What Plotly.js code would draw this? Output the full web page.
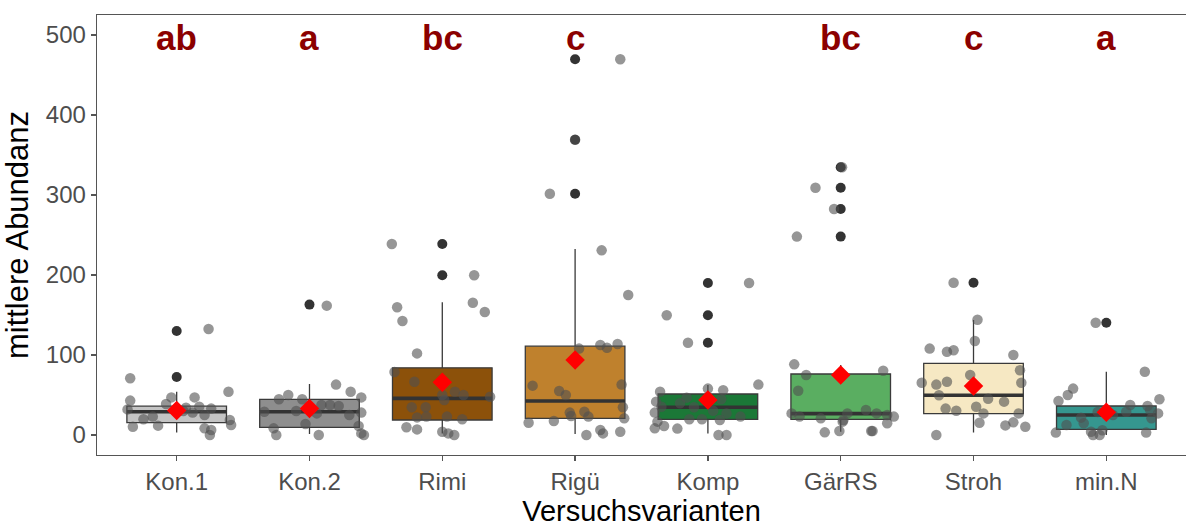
<!DOCTYPE html>
<html>
<head>
<meta charset="utf-8">
<script src="https://cdn.plot.ly/plotly-3.0.1.min.js"></script>
<style>html,body{margin:0;padding:0;background:#fff;}#chart{width:1186px;height:527px;}</style>
</head>
<body>
<div id="chart"></div>
<script>
// ---- data ----
const categories = ['Kon.1','Kon.2','Rimi','Rigü','Komp','GärRS','Stroh','min.N'];
const letters = ['ab','a','bc','c','','bc','c','a'];
const yTicks = [0,100,200,300,400,500];

// box statistics
const q1     = [15.4, 9.6, 18.75, 20.8, 19.6, 19.6, 26.7, 7];
const median = [29, 29, 45.8, 42.5, 34.6, 26.7, 49.6, 25];
const q3     = [36, 44.6, 84, 111, 51.25, 76.25, 89.6, 36.25];
const lowerWhisker = [3, 1.25, 2, 1.25, 2, 4, 3, 0];
const upperWhisker = [54, 63.75, 166, 232.5, 62.5, 87.5, 143.75, 79];
const means  = [30.5, 33, 65.8, 93.75, 43.75, 75, 61.25, 28.3];
const outliers = [
  [130, 72.5],
  [163],
  [238.75, 199.6],
  [469.6, 369, 301.6],
  [190, 149.6, 115.4],
  [334.6, 309, 282.5, 248],
  [190.4],
  [140.4]
];

// individual observations (jittered points): values and horizontal jitter
const obsValues = [
  [132.5,71,43,32,10.4,19.6,23,11.7,38.7,47,47,35.4,25,8.3,0,33,54,18.75,12.5,6.25,30,28,34],
  [161.7,63,54,47,50,44.6,44.6,29,37.5,37.5,36.25,27,28,13.75,11.25,8.3,0,0,2,0,30,25],
  [238.75,199.6,159.6,142.5,165.4,153.75,102,78.75,66.6,54,50,50,43.75,47.9,34.6,34.6,22,23,23,19.6,9.6,7,4,2,0],
  [469.6,369,301.6,230.8,175,108,112.5,109,113.75,61.7,63,55,50,34.6,28,29,23,20.8,15.4,17.5,23.75,6.25,2,4,0],
  [190,149.6,115.4,63,54,58,56,46.7,39.6,44.6,41.7,35.4,34.6,30.4,27,23,28,19.6,19.6,18.75,16.7,8.3,11.25,8,0,0],
  [334.6,309,282.5,248,88.3,75,80.4,55.4,27,23,20.8,27,16.7,31.25,27,25,23,14.6,3.3,5,5,5,18.75],
  [190.4,144,117.5,108,104,106,100,81,65.4,63,66.6,75,65.4,49.6,45.4,41.7,33,30.4,35.4,27,27,15.4,12,15.8,10.4,0],
  [140.4,79,58,50,42.5,44.6,37.5,36.25,29,31.25,27,28.75,21.7,25,14.6,12.5,20.8,3,4,0,0,3,6]
];
const obsJitter = [
  [0.24,-0.35,-0.35,-0.37,-0.33,-0.25,-0.18,-0.14,-0.08,-0.04,0.135,0.17,0.21,0.21,0.25,0.26,0.39,0.40,0.41,0.26,0.05,0.12,0.07],
  [0.13,0.20,0.31,0.39,-0.16,-0.23,-0.055,-0.34,0.09,0.155,0.22,0.055,0.39,-0.03,0.37,-0.27,-0.25,0.07,0.39,0.41,-0.10,0.30],
  [-0.38,0.24,-0.34,-0.30,0.23,0.32,-0.19,-0.36,-0.21,0.095,0.16,0.0,0.015,0.36,-0.23,-0.125,-0.19,-0.12,0.035,0.15,-0.27,-0.19,0.0,0.045,0.09],
  [0.34,0.0,-0.19,0.20,0.40,0.03,0.19,0.24,0.32,-0.32,0.35,-0.12,-0.07,0.36,-0.04,0.07,0.10,0.37,-0.35,-0.16,-0.03,0.19,0.21,0.34,0.085],
  [0.31,-0.31,-0.15,0.38,-0.36,0.0,0.115,-0.16,-0.21,0.10,-0.39,-0.35,-0.105,0.04,0.14,0.245,-0.40,-0.14,-0.045,0.09,-0.38,-0.40,-0.33,-0.23,0.08,0.14],
  [0.01,-0.19,-0.05,-0.33,-0.35,-0.26,0.32,-0.32,-0.37,-0.31,-0.15,0.05,0.015,0.19,0.27,0.35,0.40,0.35,-0.12,-0.01,0.23,0.24,0.02],
  [-0.15,0.03,0.01,-0.33,-0.20,-0.15,0.30,0.35,-0.39,-0.28,-0.20,-0.025,0.36,-0.26,0.11,0.23,-0.21,-0.13,0.02,0.075,0.34,0.045,0.24,0.30,0.39,-0.28],
  [-0.08,0.29,-0.25,-0.29,-0.36,0.40,0.18,0.31,0.15,0.33,0.39,-0.065,-0.19,0.05,-0.17,-0.30,0.34,-0.38,-0.115,-0.05,-0.10,0.30,-0.03]
];

const boxFills = ['#C4C4C4','#8E8E8E','#8C510A','#BF812D','#1B7837','#5AAE61','#F6E8C3','#35978F'];

// ---- build traces ----
const FONT = 'Liberation Sans, Arial, Helvetica, sans-serif';
const traces = [];
categories.forEach((c, i) => {
  traces.push({
    type: 'box', x: [i], q1: [q1[i]], median: [median[i]], q3: [q3[i]],
    lowerfence: [lowerWhisker[i]], upperfence: [upperWhisker[i]],
    width: 0.75, whiskerwidth: 0, fillcolor: boxFills[i], boxpoints: false,
    line: {color: '#3a3a3a', width: 1.3}, hoverinfo: 'skip', showlegend: false
  });
  // thick median bar
  traces.push({
    type: 'box', x: [i], q1: [median[i]], median: [median[i]], q3: [median[i]],
    lowerfence: [median[i]], upperfence: [median[i]],
    width: 0.75, whiskerwidth: 0, fillcolor: 'rgba(0,0,0,0)', boxpoints: false,
    line: {color: '#333333', width: 3.6}, hoverinfo: 'skip', showlegend: false
  });
});

// boxplot outliers (centred)
const oX = [], oY = [];
outliers.forEach((arr, i) => arr.forEach(v => { oX.push(i); oY.push(v); }));
traces.push({type: 'scatter', mode: 'markers', x: oX, y: oY,
  marker: {color: '#333333', size: 10}, hoverinfo: 'skip', showlegend: false});

// jittered observations
const jX = [], jY = [];
obsValues.forEach((arr, i) => arr.forEach((v, k) => { jX.push(i + obsJitter[i][k]); jY.push(v); }));
traces.push({type: 'scatter', mode: 'markers', x: jX, y: jY,
  marker: {color: 'rgba(80,80,80,0.6)', size: 10.5}, hoverinfo: 'skip', showlegend: false});

// means
traces.push({type: 'scatter', mode: 'markers', x: categories.map((c, i) => i), y: means,
  marker: {color: '#FF0000', size: 15, symbol: 'diamond'}, hoverinfo: 'skip', showlegend: false});

const annotations = letters.map((t, i) => ({
  x: i, y: 497, xref: 'x', yref: 'y', text: t, showarrow: false,
  font: {family: FONT, size: 35, color: '#8B0000', weight: 'bold'}, yanchor: 'middle'
}));

const layout = {
  width: 1186, height: 527,
  margin: {l: 97, r: 0, t: 15, b: 72, pad: 0},
  paper_bgcolor: '#fff', plot_bgcolor: '#fff',
  boxmode: 'overlay',
  font: {family: FONT},
  xaxis: {
    range: [-0.6, 7.6], tickmode: 'array', tickvals: categories.map((c, i) => i), ticktext: categories,
    showline: true, mirror: true, linecolor: '#555', linewidth: 1.3,
    ticks: 'outside', ticklen: 5, tickcolor: '#555', tickwidth: 1.2,
    showgrid: false, zeroline: false,
    tickfont: {size: 24, color: '#4D4D4D', family: FONT},
    title: {text: 'Versuchsvarianten', font: {size: 29, color: '#000', family: FONT}, standoff: 15}
  },
  yaxis: {
    range: [-25, 525], tickmode: 'array', tickvals: yTicks,
    showline: true, mirror: false, linecolor: '#555', linewidth: 1.3,
    ticks: 'outside', ticklen: 5, tickcolor: '#555', tickwidth: 1.2,
    showgrid: false, zeroline: false,
    tickfont: {size: 24, color: '#4D4D4D', family: FONT},
    title: {text: 'mittlere Abundanz', font: {size: 31, color: '#000', family: FONT}, standoff: 8}
  },
  annotations: annotations
};

Plotly.newPlot('chart', traces, layout, {staticPlot: true, displayModeBar: false});
</script>
</body>
</html>
